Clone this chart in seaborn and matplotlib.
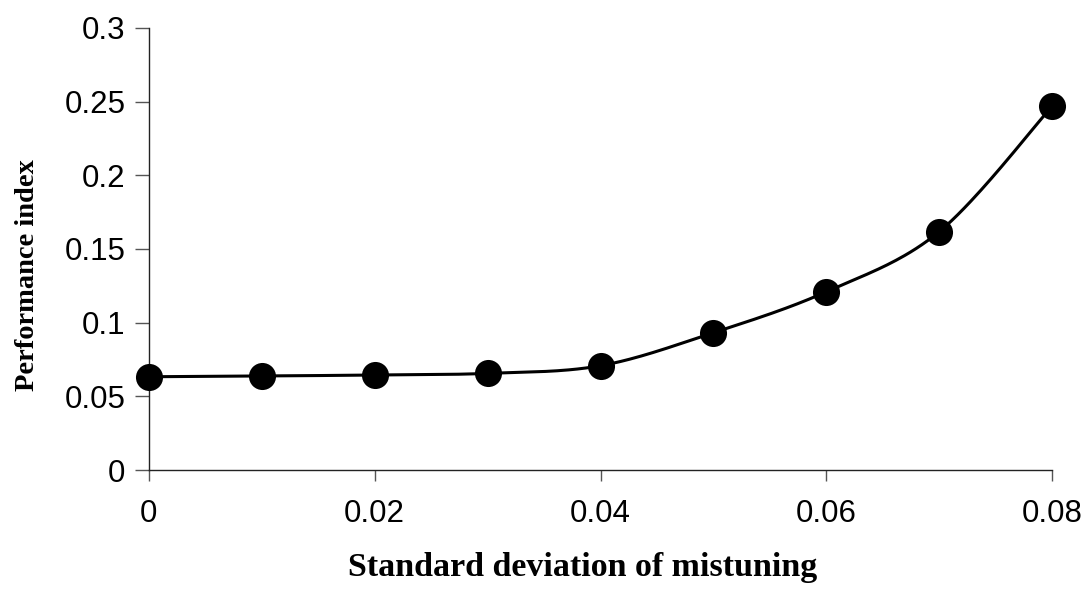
import numpy as np
import pandas as pd
import matplotlib
matplotlib.use("Agg")
import matplotlib.pyplot as plt
import seaborn as sns

# Measured performance index versus standard deviation of mistuning
mistuning_std = [0.00, 0.01, 0.02, 0.03, 0.04, 0.05, 0.06, 0.07, 0.08]
performance = [0.0633, 0.0638, 0.0645, 0.0656, 0.0708, 0.0932, 0.121, 0.1618, 0.247]
x_ticks = [0, 0.02, 0.04, 0.06, 0.08]
x_tick_labels = ["0", "0.02", "0.04", "0.06", "0.08"]
y_ticks = [0, 0.05, 0.1, 0.15, 0.2, 0.25, 0.3]
y_tick_labels = ["0", "0.05", "0.1", "0.15", "0.2", "0.25", "0.3"]


def smooth_curve(x, y, n=40):
    """Catmull-Rom style Bezier smoothing through every data point."""
    x = np.asarray(x, float)
    y = np.asarray(y, float)
    px = np.concatenate([[x[0]], x, [x[-1]]])
    py = np.concatenate([[y[0]], y, [y[-1]]])
    xs, ys = [], []
    t = np.linspace(0, 1, n)
    for i in range(1, len(px) - 2):
        p0 = np.array([px[i], py[i]])
        p3 = np.array([px[i + 1], py[i + 1]])
        p1 = p0 + (np.array([px[i + 1], py[i + 1]]) - np.array([px[i - 1], py[i - 1]])) / 6
        p2 = p3 - (np.array([px[i + 2], py[i + 2]]) - np.array([px[i], py[i]])) / 6
        b = ((1 - t) ** 3)[:, None] * p0 + (3 * (1 - t) ** 2 * t)[:, None] * p1 \
            + (3 * (1 - t) * t ** 2)[:, None] * p2 + (t ** 3)[:, None] * p3
        xs.extend(b[:, 0])
        ys.extend(b[:, 1])
    return np.array(xs), np.array(ys)


sns.set_style("white")
plt.rcParams["font.family"] = ["Liberation Sans", "DejaVu Sans"]

fig = plt.figure(figsize=(10.87, 5.89), dpi=100)
ax = fig.add_axes([0.137, 0.202, 0.831, 0.7505])

df = pd.DataFrame({"std": mistuning_std, "perf": performance})
cx, cy = smooth_curve(df["std"], df["perf"])
curve = pd.DataFrame({"std": cx, "perf": cy})

sns.lineplot(data=curve, x="std", y="perf", ax=ax, color="black", linewidth=2.2,
             sort=False, estimator=None, zorder=2)
sns.scatterplot(data=df, x="std", y="perf", ax=ax, color="black", s=380,
                edgecolor="black", linewidth=0, zorder=3, clip_on=False)

ax.set_xlim(0, 0.08)
ax.set_ylim(0, 0.3)
ax.set_xticks(x_ticks)
ax.set_xticklabels(x_tick_labels)
ax.set_yticks(y_ticks)
ax.set_yticklabels(y_tick_labels)

for side in ["top", "right"]:
    ax.spines[side].set_visible(False)
for side in ["left", "bottom"]:
    ax.spines[side].set_color("#222222")
    ax.spines[side].set_linewidth(1.0)

ax.tick_params(axis="both", which="major", direction="out", width=1.0,
               color="#555555", labelsize=22.5, labelcolor="black",
               bottom=True, left=True)
ax.tick_params(axis="x", length=8, pad=13)
ax.tick_params(axis="y", length=10, pad=7)

ax.set_xlabel("Standard deviation of mistuning", fontsize=24.5, fontweight="bold",
              family="Liberation Serif", color="black")
ax.set_ylabel("Performance index", fontsize=20.5, fontweight="bold",
              family="Liberation Serif", color="black")
ax.xaxis.set_label_coords(0.48, -0.185)
ax.yaxis.set_label_coords(-0.121, 0.441)

fig.savefig("out.png", dpi=100)
